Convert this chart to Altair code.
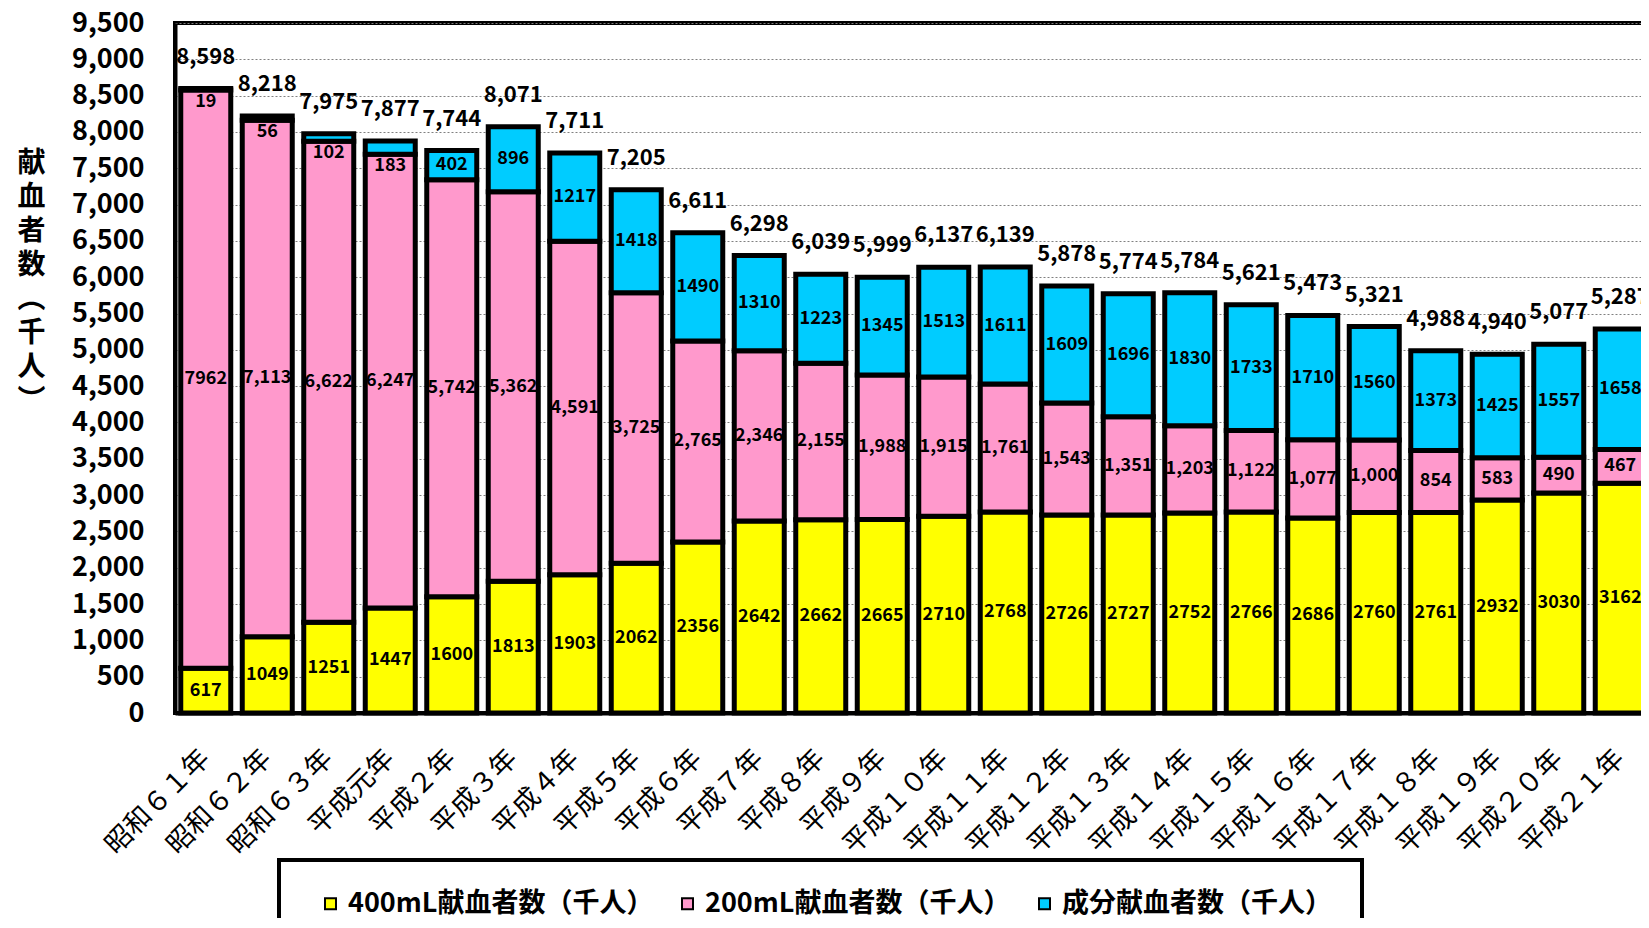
import altair as alt
import pandas as pd

cats = ["昭和６１年", "昭和６２年", "昭和６３年", "平成元年", "平成２年", "平成３年",
        "平成４年", "平成５年", "平成６年", "平成７年", "平成８年", "平成９年",
        "平成１０年", "平成１１年", "平成１２年", "平成１３年", "平成１４年", "平成１５年",
        "平成１６年", "平成１７年", "平成１８年", "平成１９年", "平成２０年", "平成２１年"]

v400 = [617, 1049, 1251, 1447, 1600, 1813, 1903, 2062, 2356, 2642, 2662, 2665,
        2710, 2768, 2726, 2727, 2752, 2766, 2686, 2760, 2761, 2932, 3030, 3162]
v200 = [7962, 7113, 6622, 6247, 5742, 5362, 4591, 3725, 2765, 2346, 2155, 1988,
        1915, 1761, 1543, 1351, 1203, 1122, 1077, 1000, 854, 583, 490, 467]
vcomp = [19, 56, 102, 183, 402, 896, 1217, 1418, 1490, 1310, 1223, 1345,
         1513, 1611, 1609, 1696, 1830, 1733, 1710, 1560, 1373, 1425, 1557, 1658]
totals = [8598, 8218, 7975, 7877, 7744, 8071, 7711, 7205, 6611, 6298, 6039, 5999,
          6137, 6139, 5878, 5774, 5784, 5621, 5473, 5321, 4988, 4940, 5077, 5287]

series_names = ["400mL献血者数（千人）", "200mL献血者数（千人）", "成分献血者数（千人）"]
colors = ["#FFFF00", "#FF99CC", "#00CCFF"]
y_ticks = list(range(0, 9501, 500))
y_title = ["献", "血", "者", "数", "︵", "千", "人", "︶"]

FONT = "Noto Sans CJK JP"

rows = []
for i, c in enumerate(cats):
    base = 0
    for k, (s, vals) in enumerate(zip(series_names, [v400, v200, vcomp])):
        v = vals[i]
        if k == 1 and i > 0:
            lab = f"{v:,}"
        else:
            lab = f"{v}"
        rows.append(dict(cat=c, series=s, ord=k, value=v, lo=base, hi=base + v,
                         mid=base + v / 2, label=lab,
                         small=(k == 2 and v < 250)))
        base += v
df = pd.DataFrame(rows)
tot_df = pd.DataFrame({"cat": cats, "total": totals})

x_scale = alt.Scale(paddingInner=0, paddingOuter=0)
y_scale = alt.Scale(domain=[0, 9500], nice=False, zero=True)

x_axis = alt.Axis(labelAngle=-45, labelAlign="right", labelBaseline="middle",
                  labelPadding=41, ticks=False, labelFont=FONT,
                  labelFontSize=27, labelFontWeight="normal",
                  labelColor="black", domainColor="black", domainWidth=4,
                  labelLimit=300, grid=False)

y_axis = alt.Axis(values=y_ticks, format=",d", ticks=False, labelPadding=31,
                  labelOverlap=False, labelFlush=False,
                  labelFont=FONT, labelFontSize=27, labelFontWeight="bold",
                  labelColor="black", domainColor="black", domainWidth=4,
                  gridColor="#808080", gridDash=[2, 2], gridWidth=1,
                  titleAngle=0, titleAlign="center", titleBaseline="middle",
                  titleX=-144, titleY=140, titleFont=FONT, titleFontSize=28,
                  titleFontWeight="bold", titleColor="black",
                  titleLineHeight=34)


def xe():
    return alt.X("cat:N", sort=cats, title=None, scale=x_scale, axis=x_axis)


def ye(field):
    return alt.Y(field, scale=y_scale, title=y_title, axis=y_axis)


bars = alt.Chart(df).mark_bar(size=50, stroke="black", strokeWidth=5,
                              strokeJoin="miter").encode(
    x=xe(),
    y=ye("lo:Q"),
    y2="hi:Q",
    color=alt.Color("series:N",
                    scale=alt.Scale(domain=series_names, range=colors),
                    legend=alt.Legend(orient="none", legendX=104, legendY=837,
                                      direction="horizontal", title=None,
                                      symbolType="square", symbolSize=121,
                                      symbolStrokeColor="black", symbolStrokeWidth=2,
                                      symbolOffset=8,
                                      labelFont=FONT, labelFontSize=27,
                                      labelFontWeight="bold", labelColor="black",
                                      labelLimit=500, labelOffset=4,
                                      columnPadding=12, padding=30,
                                      strokeColor="black",
                                      fillColor="white")),
    order=alt.Order("ord:Q"),
)

seg_text = alt.Chart(df).transform_filter("!datum.small").mark_text(
    font=FONT, fontSize=18, fontWeight="bold", color="black",
    align="center", baseline="middle").encode(
    x=xe(),
    y=ye("mid:Q"),
    text="label:N",
)

small_text = alt.Chart(df).transform_filter("datum.small").mark_text(
    font=FONT, fontSize=18, fontWeight="bold", color="black",
    align="center", baseline="middle", dy=12).encode(
    x=xe(),
    y=ye("lo:Q"),
    text="label:N",
)

tot_text = alt.Chart(tot_df).mark_text(
    font=FONT, fontSize=22, fontWeight="bold", color="black",
    align="center", baseline="middle", dy=-32).encode(
    x=xe(),
    y=ye("total:Q"),
    text=alt.Text("total:Q", format=",d"),
)

chart = alt.layer(bars, seg_text, small_text, tot_text).properties(
    width=1476, height=690,
    autosize=alt.AutoSizeParams(type="none"),
    padding={"left": 167, "top": 15, "right": -10, "bottom": 205},
    background="white",
).configure_view(stroke="black", strokeWidth=4
).configure_legend(strokeWidth=4)

chart.save("out.html", embed_options={"renderer": "svg", "actions": False})
